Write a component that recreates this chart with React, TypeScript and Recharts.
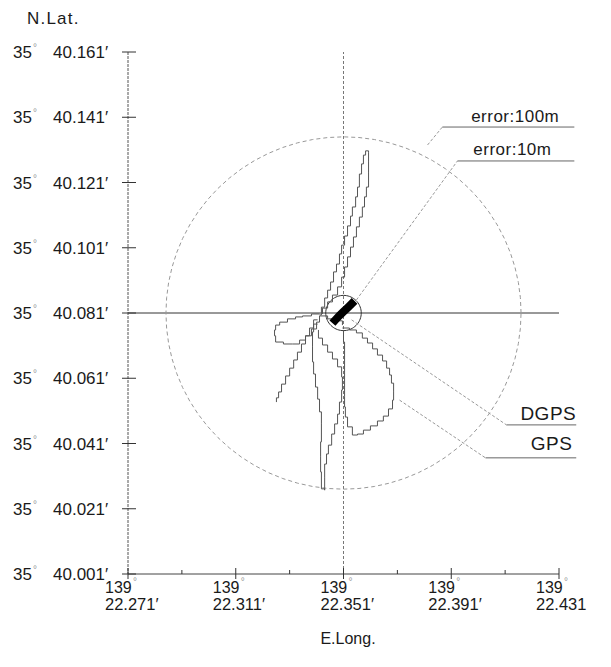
import React from 'react';
import { ComposedChart, Line, XAxis, YAxis, ReferenceLine, ReferenceDot } from 'recharts';

// ---- axis ticks (minutes) ----
const LONG_TICKS = [22.271, 22.291, 22.311, 22.331, 22.351, 22.371, 22.391, 22.411, 22.431];
const LAT_TICKS = [40.001, 40.021, 40.041, 40.061, 40.081, 40.101, 40.121, 40.141, 40.161];
const LONG_DEG = '139';
const LAT_DEG = '35';
const CENTER_LONG = 22.351;
const CENTER_LAT = 40.081;
const ERROR_RADII_M = [100, 10];
const M_PER_MIN_LAT = 1852;
const M_PER_MIN_LONG = 1517.1;

// ---- GPS track loops [E.Long minutes, N.Lat minutes] ----
const GPS_NORTH: [number, number][] = [
  [22.3421, 40.0804], [22.3428, 40.0828], [22.3440, 40.0856], [22.3451, 40.0880], [22.3462, 40.0905],
  [22.3473, 40.0936], [22.3484, 40.0960], [22.3495, 40.0991], [22.3503, 40.1018], [22.3514, 40.1046],
  [22.3525, 40.1077], [22.3536, 40.1107], [22.3543, 40.1135], [22.3555, 40.1166], [22.3562, 40.1196],
  [22.3569, 40.1236], [22.3577, 40.1267], [22.3584, 40.1294], [22.3592, 40.1307], [22.3603, 40.1303],
  [22.3603, 40.1273], [22.3603, 40.1242], [22.3603, 40.1196], [22.3595, 40.1166], [22.3588, 40.1135],
  [22.3580, 40.1104], [22.3569, 40.1074], [22.3558, 40.1043], [22.3547, 40.1012], [22.3536, 40.0982],
  [22.3525, 40.0951], [22.3514, 40.0920], [22.3503, 40.0890], [22.3488, 40.0865], [22.3469, 40.0844],
  [22.3451, 40.0825], [22.3432, 40.0807],
];
const GPS_WEST: [number, number][] = [
  [22.3421, 40.0807], [22.3391, 40.0801], [22.3358, 40.0798], [22.3332, 40.0792], [22.3302, 40.0782],
  [22.3273, 40.0773], [22.3258, 40.0758], [22.3254, 40.0740], [22.3258, 40.0721], [22.3287, 40.0715],
  [22.3321, 40.0715], [22.3347, 40.0727], [22.3369, 40.0740], [22.3391, 40.0761], [22.3410, 40.0782],
  [22.3421, 40.0801],
];
const GPS_SOUTHWEST: [number, number][] = [
  [22.3414, 40.0789], [22.3399, 40.0764], [22.3384, 40.0740], [22.3369, 40.0715], [22.3354, 40.0690],
  [22.3339, 40.0666], [22.3325, 40.0641], [22.3310, 40.0617], [22.3295, 40.0592], [22.3280, 40.0568],
  [22.3269, 40.0550], [22.3261, 40.0537],
];
const GPS_SOUTH: [number, number][] = [
  [22.3414, 40.0776], [22.3399, 40.0752], [22.3395, 40.0706], [22.3395, 40.0660], [22.3399, 40.0623],
  [22.3406, 40.0583], [22.3414, 40.0546], [22.3421, 40.0507], [22.3428, 40.0470], [22.3428, 40.0415],
  [22.3425, 40.0369], [22.3425, 40.0323], [22.3428, 40.0271], [22.3440, 40.0267], [22.3440, 40.0307],
  [22.3440, 40.0347], [22.3447, 40.0378], [22.3454, 40.0405], [22.3466, 40.0439], [22.3477, 40.0470],
  [22.3488, 40.0500], [22.3495, 40.0537], [22.3503, 40.0574], [22.3506, 40.0614], [22.3503, 40.0645],
  [22.3488, 40.0669], [22.3469, 40.0690], [22.3451, 40.0712], [22.3432, 40.0733], [22.3417, 40.0758],
];
const GPS_SOUTHEAST: [number, number][] = [
  [22.3506, 40.0764], [22.3532, 40.0758], [22.3558, 40.0749], [22.3580, 40.0733], [22.3599, 40.0718],
  [22.3618, 40.0700], [22.3636, 40.0681], [22.3655, 40.0663], [22.3670, 40.0641], [22.3681, 40.0620],
  [22.3688, 40.0595], [22.3696, 40.0568], [22.3696, 40.0543], [22.3692, 40.0516], [22.3677, 40.0494],
  [22.3658, 40.0479], [22.3636, 40.0464], [22.3610, 40.0451], [22.3584, 40.0439], [22.3562, 40.0436],
  [22.3543, 40.0461], [22.3525, 40.0491], [22.3517, 40.0522], [22.3514, 40.0553], [22.3514, 40.0583],
  [22.3514, 40.0629], [22.3514, 40.0675], [22.3514, 40.0721], [22.3510, 40.0758],
];
const GPS_LINK: [number, number][] = [
  [22.3421, 40.0801], [22.3451, 40.0792], [22.3480, 40.0786], [22.3506, 40.0773],
];
// ---- DGPS cluster ----
const DGPS: [number, number][] = [
  [22.3469, 40.0779], [22.3480, 40.0789], [22.3495, 40.0802], [22.3510, 40.0814],
  [22.3525, 40.0826], [22.3540, 40.0838], [22.3551, 40.0847],
];

// ---- annotations ----
const LABELS = [
  { text: 'error:100m', x: 22.4311, y: 40.1395, size: 17 },
  { text: 'error:10m', x: 22.4282, y: 40.1294, size: 17 },
  { text: 'DGPS', x: 22.4374, y: 40.0482, size: 19 },
  { text: 'GPS', x: 22.4360, y: 40.0390, size: 19 },
];
const UNDERLINES: [number, number, number][] = [
  [22.3877, 22.4367, 40.1380],
  [22.3933, 22.4367, 40.1276],
  [22.4115, 22.4374, 40.0467],
  [22.4037, 22.4374, 40.0366],
];
const LEADERS: [number, number, number, number][] = [
  [22.3822, 40.1325, 22.3877, 40.1380],
  [22.3558, 40.0850, 22.3933, 40.1276],
  [22.3540, 40.0789, 22.4115, 40.0467],
  [22.3718, 40.0543, 22.4037, 40.0366],
];

const FONT = '"Liberation Sans", Arial, sans-serif';
const toPts = (a: [number, number][]) => a.map(([x, y]) => ({ x, y }));
const ring = (rm: number) =>
  Array.from({ length: 73 }, (_, i) => {
    const a = (i * 5 * Math.PI) / 180;
    return { x: CENTER_LONG + (rm / M_PER_MIN_LONG) * Math.cos(a), y: CENTER_LAT + (rm / M_PER_MIN_LAT) * Math.sin(a) };
  });

const YTick = (props: any) => {
  const { x, y, payload } = props;
  return (
    <g>
      <line x1={x - 6} x2={x + 8} y1={y} y2={y} stroke="#333" />
      <text x={13} y={y + 6} fontSize={17} fontFamily={FONT} fill="#1a1a1a">{LAT_DEG}</text>
      <text x={33} y={y - 1} fontSize={10} fontFamily={FONT} fill="#999">°</text>
      <text x={53} y={y + 6} fontSize={17} fontFamily={FONT} fill="#1a1a1a">{payload.value.toFixed(3) + '′'}</text>
    </g>
  );
};

const XTick = (props: any) => {
  const { x, y, payload } = props;
  const v = payload.value as number;
  const major = Math.round((v - LONG_TICKS[0]) * 1000) % 40 === 0;
  if (!major) return <line x1={x} x2={x} y1={y - 4} y2={y} stroke="#333" />;
  const last = Math.abs(v - LONG_TICKS[LONG_TICKS.length - 1]) < 1e-6;
  return (
    <g>
      <line x1={x} x2={x} y1={y - 6} y2={y + 5} stroke="#333" />
      <text x={x - 23} y={y + 19} fontSize={16} fontFamily={FONT} fill="#1a1a1a">{LONG_DEG}</text>
      <text x={x + 5} y={y + 11} fontSize={10} fontFamily={FONT} fill="#999">°</text>
      <text x={x - 23} y={y + 36} fontSize={16.5} fontFamily={FONT} fill="#1a1a1a">{v.toFixed(3) + (last ? '' : '′')}</text>
    </g>
  );
};

export default function App() {
  const track = [GPS_NORTH, GPS_WEST, GPS_SOUTHWEST, GPS_SOUTH, GPS_SOUTHEAST, GPS_LINK];
  return (
    <div style={{ position: 'absolute', left: 0, top: 0, background: '#fff' }}>
      <ComposedChart width={611} height={667} margin={{ top: 52, right: 52, left: 0, bottom: 0 }}>
        <XAxis
          type="number"
          dataKey="x"
          domain={[22.271, 22.431]}
          ticks={LONG_TICKS}
          allowDataOverflow
          height={93}
          tickSize={0}
          tickMargin={0}
          tickLine={false}
          interval={0}
          axisLine={{ stroke: '#444' }}
          tick={<XTick />}
          label={() => (
            <text x={348} y={644} textAnchor="middle" fontSize={16} fontFamily={FONT} fill="#1a1a1a">E.Long.</text>
          )}
        />
        <YAxis
          type="number"
          domain={[40.001, 40.161]}
          ticks={LAT_TICKS}
          allowDataOverflow
          width={128}
          tickSize={0}
          tickMargin={0}
          tickLine={false}
          interval={0}
          axisLine={{ stroke: '#555', strokeDasharray: '3 1' }}
          tick={<YTick />}
          label={() => (
            <text x={27} y={24} fontSize={17} letterSpacing={1.2} fontFamily={FONT} fill="#1a1a1a">N.Lat.</text>
          )}
        />
        <ReferenceLine y={CENTER_LAT} stroke="#333" strokeWidth={1} />
        <ReferenceLine x={CENTER_LONG} stroke="#777" strokeDasharray="3 2" />
        <Line data={ring(ERROR_RADII_M[0])} dataKey="y" type="linear" stroke="#999" strokeDasharray="4 3" dot={false} isAnimationActive={false} />
        <Line data={ring(ERROR_RADII_M[1])} dataKey="y" type="linear" stroke="#333" dot={false} isAnimationActive={false} />
        {track.map((t, i) => (
          <Line key={i} data={toPts(t)} dataKey="y" type="stepAfter" stroke="#555" strokeWidth={1} dot={false} isAnimationActive={false} />
        ))}
        <Line data={toPts(DGPS)} dataKey="y" type="linear" stroke="#000" strokeWidth={8} dot={false} isAnimationActive={false} />
        {LEADERS.map((l, i) => (
          <ReferenceLine key={'l' + i} segment={[{ x: l[0], y: l[1] }, { x: l[2], y: l[3] }]} stroke="#999" strokeDasharray="3 2" ifOverflow="visible" />
        ))}
        {UNDERLINES.map((u, i) => (
          <ReferenceLine key={'u' + i} segment={[{ x: u[0], y: u[2] }, { x: u[1], y: u[2] }]} stroke="#666" ifOverflow="visible" />
        ))}
        {LABELS.map((lb, i) => (
          <ReferenceDot
            key={'t' + i}
            x={lb.x}
            y={lb.y}
            r={0}
            ifOverflow="visible"
            shape={(p: any) => (
              <text x={p.cx} y={p.cy} textAnchor="end" fontSize={lb.size} letterSpacing={0.5} fontFamily={FONT} fill="#1a1a1a">{lb.text}</text>
            )}
          />
        ))}
      </ComposedChart>
    </div>
  );
}
